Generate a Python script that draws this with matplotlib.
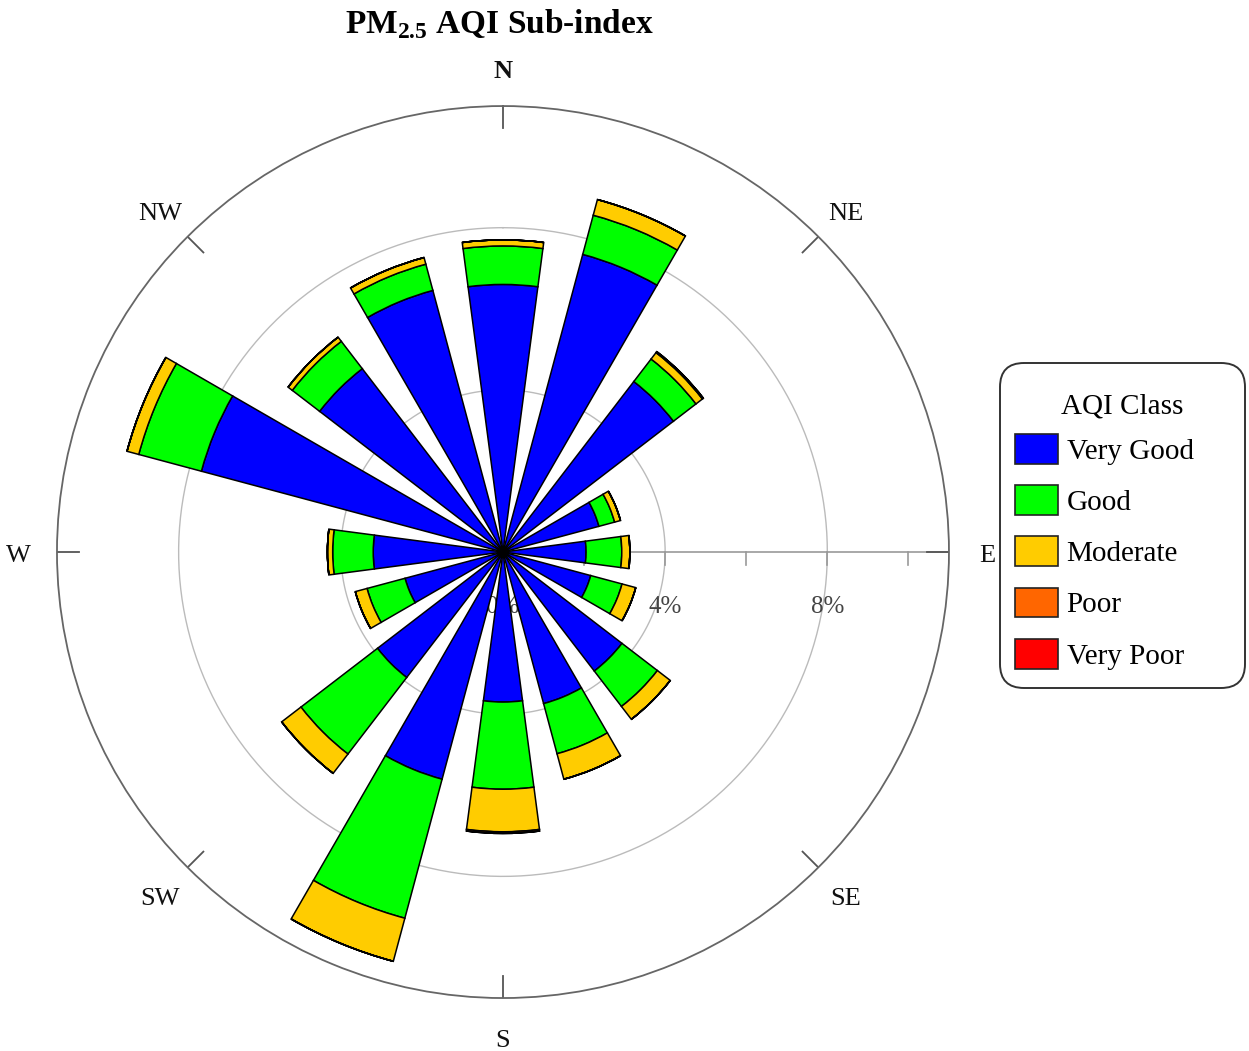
import numpy as np
import matplotlib.pyplot as plt
from matplotlib.patches import Patch, FancyBboxPatch
from matplotlib.transforms import IdentityTransform, ScaledTranslation

plt.rcParams['font.family'] = ['Liberation Serif', 'DejaVu Serif']
plt.rcParams['mathtext.fontset'] = 'custom'
plt.rcParams['mathtext.rm'] = 'Liberation Serif'
plt.rcParams['mathtext.bf'] = 'Liberation Serif:bold'

# wind direction sectors, clockwise from north
directions = ['N', 'NNE', 'NE', 'ENE', 'E', 'ESE', 'SE', 'SSE',
              'S', 'SSW', 'SW', 'WSW', 'W', 'WNW', 'NW', 'NNW']

# frequency (%) of each AQI class per direction
very_good = [6.6, 7.6, 5.3, 2.45, 2.05, 2.24, 3.7, 3.87,
             3.7, 5.8, 3.9, 2.5, 3.2, 7.7, 5.7, 6.68]
good = [0.95, 1.0, 0.7, 0.4, 0.88, 0.8, 1.1, 1.28,
        2.15, 3.55, 2.38, 0.97, 1.0, 1.6, 0.85, 0.67]
moderate = [0.15, 0.4, 0.2, 0.15, 0.2, 0.35, 0.4, 0.65,
            1.05, 1.1, 0.6, 0.3, 0.13, 0.3, 0.13, 0.17]
poor = [0, 0, 0.03, 0, 0, 0, 0, 0,
        0.04, 0, 0, 0, 0, 0, 0, 0]
very_poor = [0] * 16

classes = ['Very Good', 'Good', 'Moderate', 'Poor', 'Very Poor']
colors = ['#0000FF', '#00FF00', '#FFCC00', '#FF6600', '#FF0000']
series = [very_good, good, moderate, poor, very_poor]

compass = ['N', 'NE', 'E', 'SE', 'S', 'SW', 'W', 'NW']
ring_levels = [4, 8]
r_max = 11

fig = plt.figure(figsize=(12.49, 10.51), dpi=100)
ax = fig.add_axes([0.0456, 0.0504, 0.7142, 0.8487], projection='polar')
ax.set_theta_zero_location('N')
ax.set_theta_direction(-1)
ax.set_ylim(0, r_max)
ax.grid(False)
ax.set_xticks([])
ax.set_yticks([])
ax.spines['polar'].set_color('#666666')
ax.spines['polar'].set_linewidth(1.3)

theta = np.deg2rad(np.arange(16) * 22.5)
width = np.deg2rad(15)

# rings and the east radial axis
circ = np.linspace(0, 2 * np.pi, 400)
for lv in ring_levels:
    ax.plot(circ, np.full_like(circ, lv), color='#BBBBBB', lw=1, zorder=1)
ax.plot([np.pi / 2, np.pi / 2], [0, r_max], color='#999999', lw=1.2, zorder=1)

# small ticks hanging below the east axis every 2%
d = 0.33
for r in [2, 4, 6, 8, 10]:
    ang = np.pi / 2 + np.arctan2(d, r)
    ax.plot([np.pi / 2, ang], [r, np.hypot(r, d)], color='#999999', lw=1.2, zorder=1)

# percentage labels
for r in [0] + ring_levels:
    t = np.pi / 2 + np.arctan2(1.35, r)
    ax.text(t, np.hypot(r, 1.35), f'{r}%', ha='center', va='center',
            fontsize=18, color='#444444', zorder=1)

# compass ticks on the outer circle and their labels
shift = ax.transData + ScaledTranslation(0, -3 / 72, fig.dpi_scale_trans)
for i, name in enumerate(compass):
    a = np.deg2rad(i * 45)
    ax.plot([a, a], [r_max - 0.55, r_max], color='#555555', lw=1.3, zorder=1)
    ax.text(a, r_max + 0.95, name, ha='center', va='center', fontsize=19,
            fontweight='bold' if name == 'N' else 'normal', color='#111111',
            transform=shift)

# stacked bars
bottom = np.zeros(16)
for vals, c in zip(series, colors):
    vals = np.array(vals, dtype=float)
    ax.bar(theta, vals, width=width, bottom=bottom, color=c,
           edgecolor='black', linewidth=1.1, zorder=3)
    bottom += vals

fig.text(0.40, 0.977, r'PM$_{\mathbf{2.5}}$ AQI Sub-index', ha='center', va='center',
         fontsize=24, fontweight='bold')

# legend with a rounded frame
frame = FancyBboxPatch((1000, 363), 245, 325, boxstyle='round,pad=0,rounding_size=24',
                       facecolor='white', edgecolor='#333333', linewidth=1.4,
                       transform=IdentityTransform())
fig.add_artist(frame)
fig.text(1122 / 1249, 1 - 406 / 1051, 'AQI Class', ha='center', va='center', fontsize=21)

handles = [Patch(facecolor=c, edgecolor='#222222', linewidth=1.2) for c in colors]
leg = fig.legend(handles, classes, loc='upper left', bbox_to_anchor=(0.8127, 0.5871),
                 fontsize=21, handlelength=1.47, handleheight=1.2, labelspacing=0.7,
                 handletextpad=0.3, borderpad=0, borderaxespad=0, frameon=False)

fig.savefig('out.png', dpi=100)
